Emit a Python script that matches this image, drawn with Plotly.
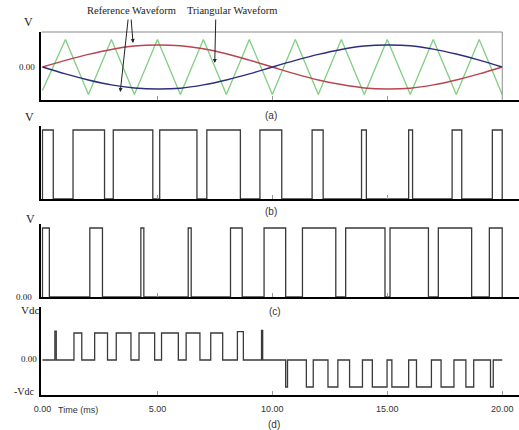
import plotly.graph_objects as go

# ---------------- data ----------------
# time axis in ms
sine_t = [0, 1, 2, 3, 4, 5, 6, 7, 8, 9, 10, 11, 12, 13, 14, 15, 16, 17, 18, 19, 20]
ref_red = [0.0, 0.24, 0.46, 0.64, 0.76, 0.80, 0.77, 0.66, 0.48, 0.25, 0.0,
           -0.25, -0.47, -0.64, -0.76, -0.80, -0.77, -0.65, -0.47, -0.25, 0.0]
ref_blue = [0.0, -0.25, -0.47, -0.65, -0.76, -0.80, -0.77, -0.65, -0.47, -0.25, 0.0,
            0.24, 0.46, 0.64, 0.76, 0.80, 0.77, 0.65, 0.47, 0.25, 0.0]

tri_t = [0, 1, 2, 3, 4, 5, 6, 7, 8, 9, 10, 11, 12, 13, 14, 15, 16, 17, 18, 19, 20]
tri_v = [-0.85, 1, -1, 1, -1, 1, -1, 1, -1, 1, -1, 1, -1, 1, -1, 1, -1, 1, -1, 1, -1]

# (b) gate pulses: start / end times (ms)
b_start = [0.0, 1.33, 3.08, 5.10, 7.15, 9.46, 11.73, 13.88, 15.93, 17.82, 19.57]
b_end   = [0.47, 2.70, 4.80, 6.72, 8.61, 10.41, 12.21, 14.09, 16.10, 18.24, 20.0]

# (c) gate pulses
c_start = [0.0, 2.06, 4.28, 6.34, 8.18, 9.64, 11.31, 13.19, 15.12, 17.22, 19.44]
c_end   = [0.30, 2.61, 4.41, 6.47, 8.69, 10.58, 12.76, 14.90, 16.79, 18.67, 20.0]

# (d) output voltage pulses (+Vdc = 1, -Vdc = -1)
d_start = [0.54, 1.37, 2.27, 3.21, 4.20, 5.18, 6.25, 7.32, 8.48, 9.53,
           10.58, 11.48, 12.42, 13.36, 14.35, 15.20, 16.27, 17.34, 18.42, 19.49]
d_end   = [0.60, 1.71, 2.83, 3.85, 4.88, 5.91, 6.85, 7.84, 8.74, 9.58,
           10.66, 11.78, 12.85, 13.92, 14.99, 15.93, 16.92, 17.90, 18.76, 19.61]
d_level = [1.07, 1, 1, 1, 1, 1, 1, 1, 1.05, 1.1,
           -1, -1, -1, -1, -1, -1, -1, -1, -1, -1]

x_tickvals = [0, 5, 10, 15, 20]
x_ticktext = ["0.00", "5.00", "10.00", "15.00", "20.00"]


def pulse_xy(starts, ends, levels=None, t0=0.0, t1=20.0):
    if levels is None:
        levels = [1] * len(starts)
    xs, ys = [t0], [0]
    for s, e, h in zip(starts, ends, levels):
        xs += [s, s, e, e]
        ys += [0, h, h, 0]
    xs.append(t1)
    ys.append(0)
    return xs, ys


W, H = 519, 430


def px(x):
    return x / W


def py(y):
    return 1 - y / H


fig = go.Figure()

# (a)
fig.add_trace(go.Scatter(x=tri_t, y=tri_v, mode="lines", line=dict(color="#7fcf80", width=1.3),
                         xaxis="x", yaxis="y", showlegend=False, hoverinfo="skip"))
fig.add_trace(go.Scatter(x=sine_t, y=ref_red, mode="lines", line=dict(color="#b8454f", width=1.5, shape="spline"),
                         xaxis="x", yaxis="y", showlegend=False))
fig.add_trace(go.Scatter(x=sine_t, y=ref_blue, mode="lines", line=dict(color="#2c2f7c", width=1.5, shape="spline"),
                         xaxis="x", yaxis="y", showlegend=False))

pulse_color = "#3a3a3a"
bx, by = pulse_xy(b_start, b_end)
fig.add_trace(go.Scatter(x=bx, y=by, mode="lines", line=dict(color=pulse_color, width=1.3),
                         xaxis="x2", yaxis="y2", showlegend=False))
cx, cy = pulse_xy(c_start, c_end)
fig.add_trace(go.Scatter(x=cx, y=cy, mode="lines", line=dict(color=pulse_color, width=1.3),
                         xaxis="x3", yaxis="y3", showlegend=False))
dx, dy = pulse_xy(d_start, d_end, d_level)
fig.add_trace(go.Scatter(x=dx, y=dy, mode="lines", line=dict(color=pulse_color, width=1.3),
                         xaxis="x4", yaxis="y4", showlegend=False))

xrange = [-0.043, 20.73]
xdom = [px(34), 1]


def xax(anchor, last=False):
    d = dict(domain=xdom, range=xrange, anchor=anchor, showline=True, linecolor="black",
             linewidth=2.2, showgrid=False, zeroline=False, ticks="inside", ticklen=4,
             tickcolor="#999", tickwidth=1)
    if last:
        d.update(tickvals=x_tickvals, ticktext=x_ticktext, showticklabels=True,
                 tickfont=dict(family="Liberation Sans", size=9, color="#333"), ticklabelstandoff=4)
    else:
        d.update(tickvals=[5, 10, 15], showticklabels=False)
    return d


def yax(anchor, top, bottom, rng):
    return dict(domain=[py(bottom), py(top)], range=rng, anchor=anchor, showline=True,
                linecolor="black", linewidth=1.5, showgrid=False, zeroline=False,
                showticklabels=False, ticks="")


fig.update_layout(
    width=W, height=H, margin=dict(l=0, r=0, t=0, b=0),
    paper_bgcolor="white", plot_bgcolor="white",
    xaxis=xax("y"), yaxis=yax("x", 32, 100, [-1.2, 1.273]),
    xaxis2=xax("y2"), yaxis2=yax("x2", 126, 199, [0, 1.058]),
    xaxis3=xax("y3"), yaxis3=yax("x3", 224, 297, [0, 1.058]),
    xaxis4=xax("y4", last=True), yaxis4=yax("x4", 307, 395, [-1.296, 1.963]),
)

# frame of panel (a)
fig.add_shape(type="line", xref="paper", yref="paper", x0=px(34), x1=px(502), y0=py(32), y1=py(32),
              line=dict(color="#8a8a8a", width=1))
fig.add_shape(type="line", xref="paper", yref="paper", x0=px(502), x1=px(502), y0=py(32), y1=py(100),
              line=dict(color="#8a8a8a", width=1))

serif = "Liberation Serif"
sans = "Liberation Sans"


def label(text, x, y, size=10, family=serif, color="#222"):
    fig.add_annotation(text=text, x=px(x), y=py(y), xref="paper", yref="paper", showarrow=False,
                       xanchor="center", yanchor="middle", font=dict(family=family, size=size, color=color))


label("Reference Waveform", 125, 11, 10.5)
label("Triangular Waveform", 228, 11, 10.5)
label("V", 21, 22, 12)
label("0.00", 19, 67, 9)
label("V", 22, 117, 12)
label("V", 23, 219, 12)
label("0.00", 16, 297, 9)
label("Vdc", 22, 310, 11)
label("0.00", 21, 359, 9)
label("-Vdc", 17, 391, 10)
label("Time (ms)", 71, 410, 9, sans, "#333")
label("(a)", 267, 115, 10, sans, "#333")
label("(b)", 267, 211, 10, sans, "#333")
label("(c)", 271, 311, 10, sans, "#333")
label("(d)", 270, 424, 10, sans, "#333")


def arrow(x_tail, y_tail, x_head, y_head):
    fig.add_annotation(text="", x=px(x_head), y=py(y_head), xref="paper", yref="paper",
                       ax=x_tail - x_head, ay=y_tail - y_head, axref="pixel", ayref="pixel",
                       showarrow=True, arrowhead=2, arrowsize=0.8, arrowwidth=1, arrowcolor="#222")


arrow(125, 18, 127, 43)
arrow(122, 18, 114, 92)
arrow(211, 18, 210, 63)

fig.write_html("out.html", config={"displayModeBar": False},
               post_script="document.body.style.margin='0px';document.body.style.overflow='hidden';")
